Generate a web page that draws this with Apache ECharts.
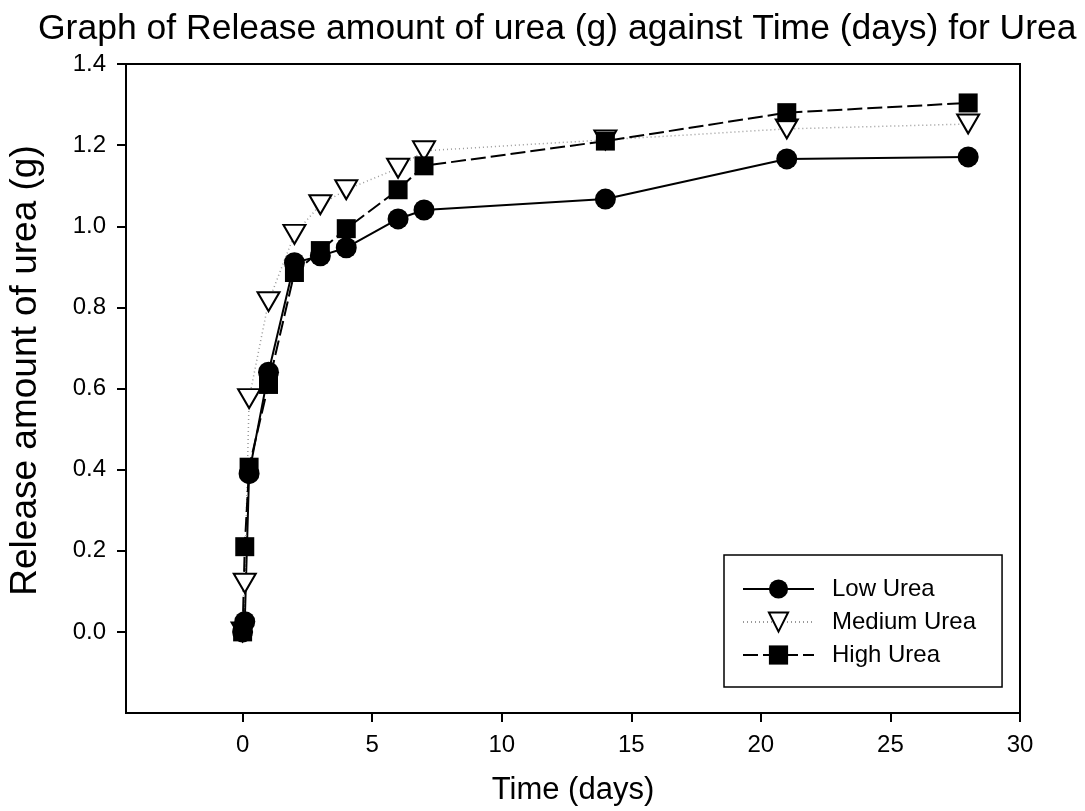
<!DOCTYPE html>
<html>
<head>
<meta charset="utf-8">
<script src="https://cdn.jsdelivr.net/npm/echarts@6/dist/echarts.min.js"></script>
<style>
  html, body { margin: 0; padding: 0; background: #fff; }
  #chart-release { width: 1085px; height: 811px; }
</style>
</head>
<body>
<div id="chart-release"></div>
<script>
// time points (days)
const days = [0, 0.083, 0.25, 1, 2, 3, 4, 6, 7, 14, 21, 28];
// release amount of urea (g)
const lowUrea = [0, 0.025, 0.39, 0.64, 0.91, 0.927, 0.947, 1.018, 1.04, 1.067, 1.166, 1.171];
const mediumUrea = [0, 0.12, 0.575, 0.814, 0.98, 1.053, 1.09, 1.143, 1.186, 1.213, 1.24, 1.252];
const highUrea = [0, 0.21, 0.406, 0.61, 0.886, 0.94, 0.994, 1.09, 1.149, 1.21, 1.28, 1.304];
const xTicks = [0, 5, 10, 15, 20, 25, 30];
const yTicks = [0, 0.2, 0.4, 0.6, 0.8, 1.0, 1.2, 1.4];

const font = "Liberation Sans, Arial, sans-serif";
const pairs = (ys) => days.map((d, i) => [d, ys[i]]);

let chart = echarts.init(document.getElementById("chart-release"));
chart.setOption({
  animation: false,
  title: {
    text: "Graph of Release amount of urea (g) against Time (days) for Urea",
    left: 33,
    top: 6,
    textStyle: { fontFamily: font, fontSize: 35.5, fontWeight: "normal", color: "#000" },
  },
  grid: {
    left: 126,
    right: 65,
    top: 64,
    bottom: 98,
    outerBoundsMode: "none",
    show: true,
    borderColor: "#000",
    borderWidth: 2,
  },
  legend: {
    orient: "vertical",
    left: 724,
    top: 555,
    padding: [22, 26, 20, 18],
    itemWidth: 71,
    itemHeight: 24,
    itemGap: 9,
    borderColor: "#000",
    borderWidth: 1.5,
    textStyle: { fontFamily: font, fontSize: 24, color: "#000", padding: [0, 0, 0, 13] },
  },
  xAxis: {
    type: "value",
    min: -4.5,
    max: 30,
    name: "Time (days)",
    nameLocation: "middle",
    nameGap: 62,
    nameTextStyle: { fontFamily: font, fontSize: 31, color: "#000" },
    axisLine: { onZero: false, lineStyle: { color: "#000", width: 2 } },
    axisTick: { customValues: xTicks, length: 9, lineStyle: { color: "#000", width: 2 } },
    axisLabel: { customValues: xTicks, margin: 20, fontFamily: font, fontSize: 24, color: "#000" },
    splitLine: { show: false },
  },
  yAxis: {
    type: "value",
    min: -0.2,
    max: 1.4,
    name: "Release amount of urea (g)",
    nameLocation: "middle",
    nameGap: 82,
    nameTextStyle: { fontFamily: font, fontSize: 37, color: "#000", padding: [0, 0, 0, 36] },
    axisLine: { onZero: false, lineStyle: { color: "#000", width: 2 } },
    axisTick: { customValues: yTicks, length: 9, lineStyle: { color: "#000", width: 2 } },
    axisLabel: {
      customValues: yTicks,
      margin: 20,
      fontFamily: font,
      fontSize: 24,
      color: "#000",
      formatter: function (value) {
        return value.toFixed(1);
      },
    },
    splitLine: { show: false },
  },
  series: [
    {
      type: "line",
      name: "Low Urea",
      data: pairs(lowUrea),
      symbol: "circle",
      symbolSize: 21,
      lineStyle: { color: "#000", width: 2 },
      itemStyle: { color: "#000", borderColor: "#000", borderWidth: 0 },
    },
    {
      type: "line",
      name: "Medium Urea",
      data: pairs(mediumUrea),
      symbol: "triangle",
      symbolRotate: 180,
      symbolSize: [22, 19],
      lineStyle: { color: "#999", width: 1.5, type: [1, 3] },
      itemStyle: { color: "#fff", borderColor: "#000", borderWidth: 2 },
    },
    {
      type: "line",
      name: "High Urea",
      data: pairs(highUrea),
      symbol: "rect",
      symbolSize: 19,
      lineStyle: { color: "#000", width: 2, type: [15, 5] },
      itemStyle: { color: "#000", borderColor: "#000", borderWidth: 0 },
    },
  ],
});
</script>
</body>
</html>
